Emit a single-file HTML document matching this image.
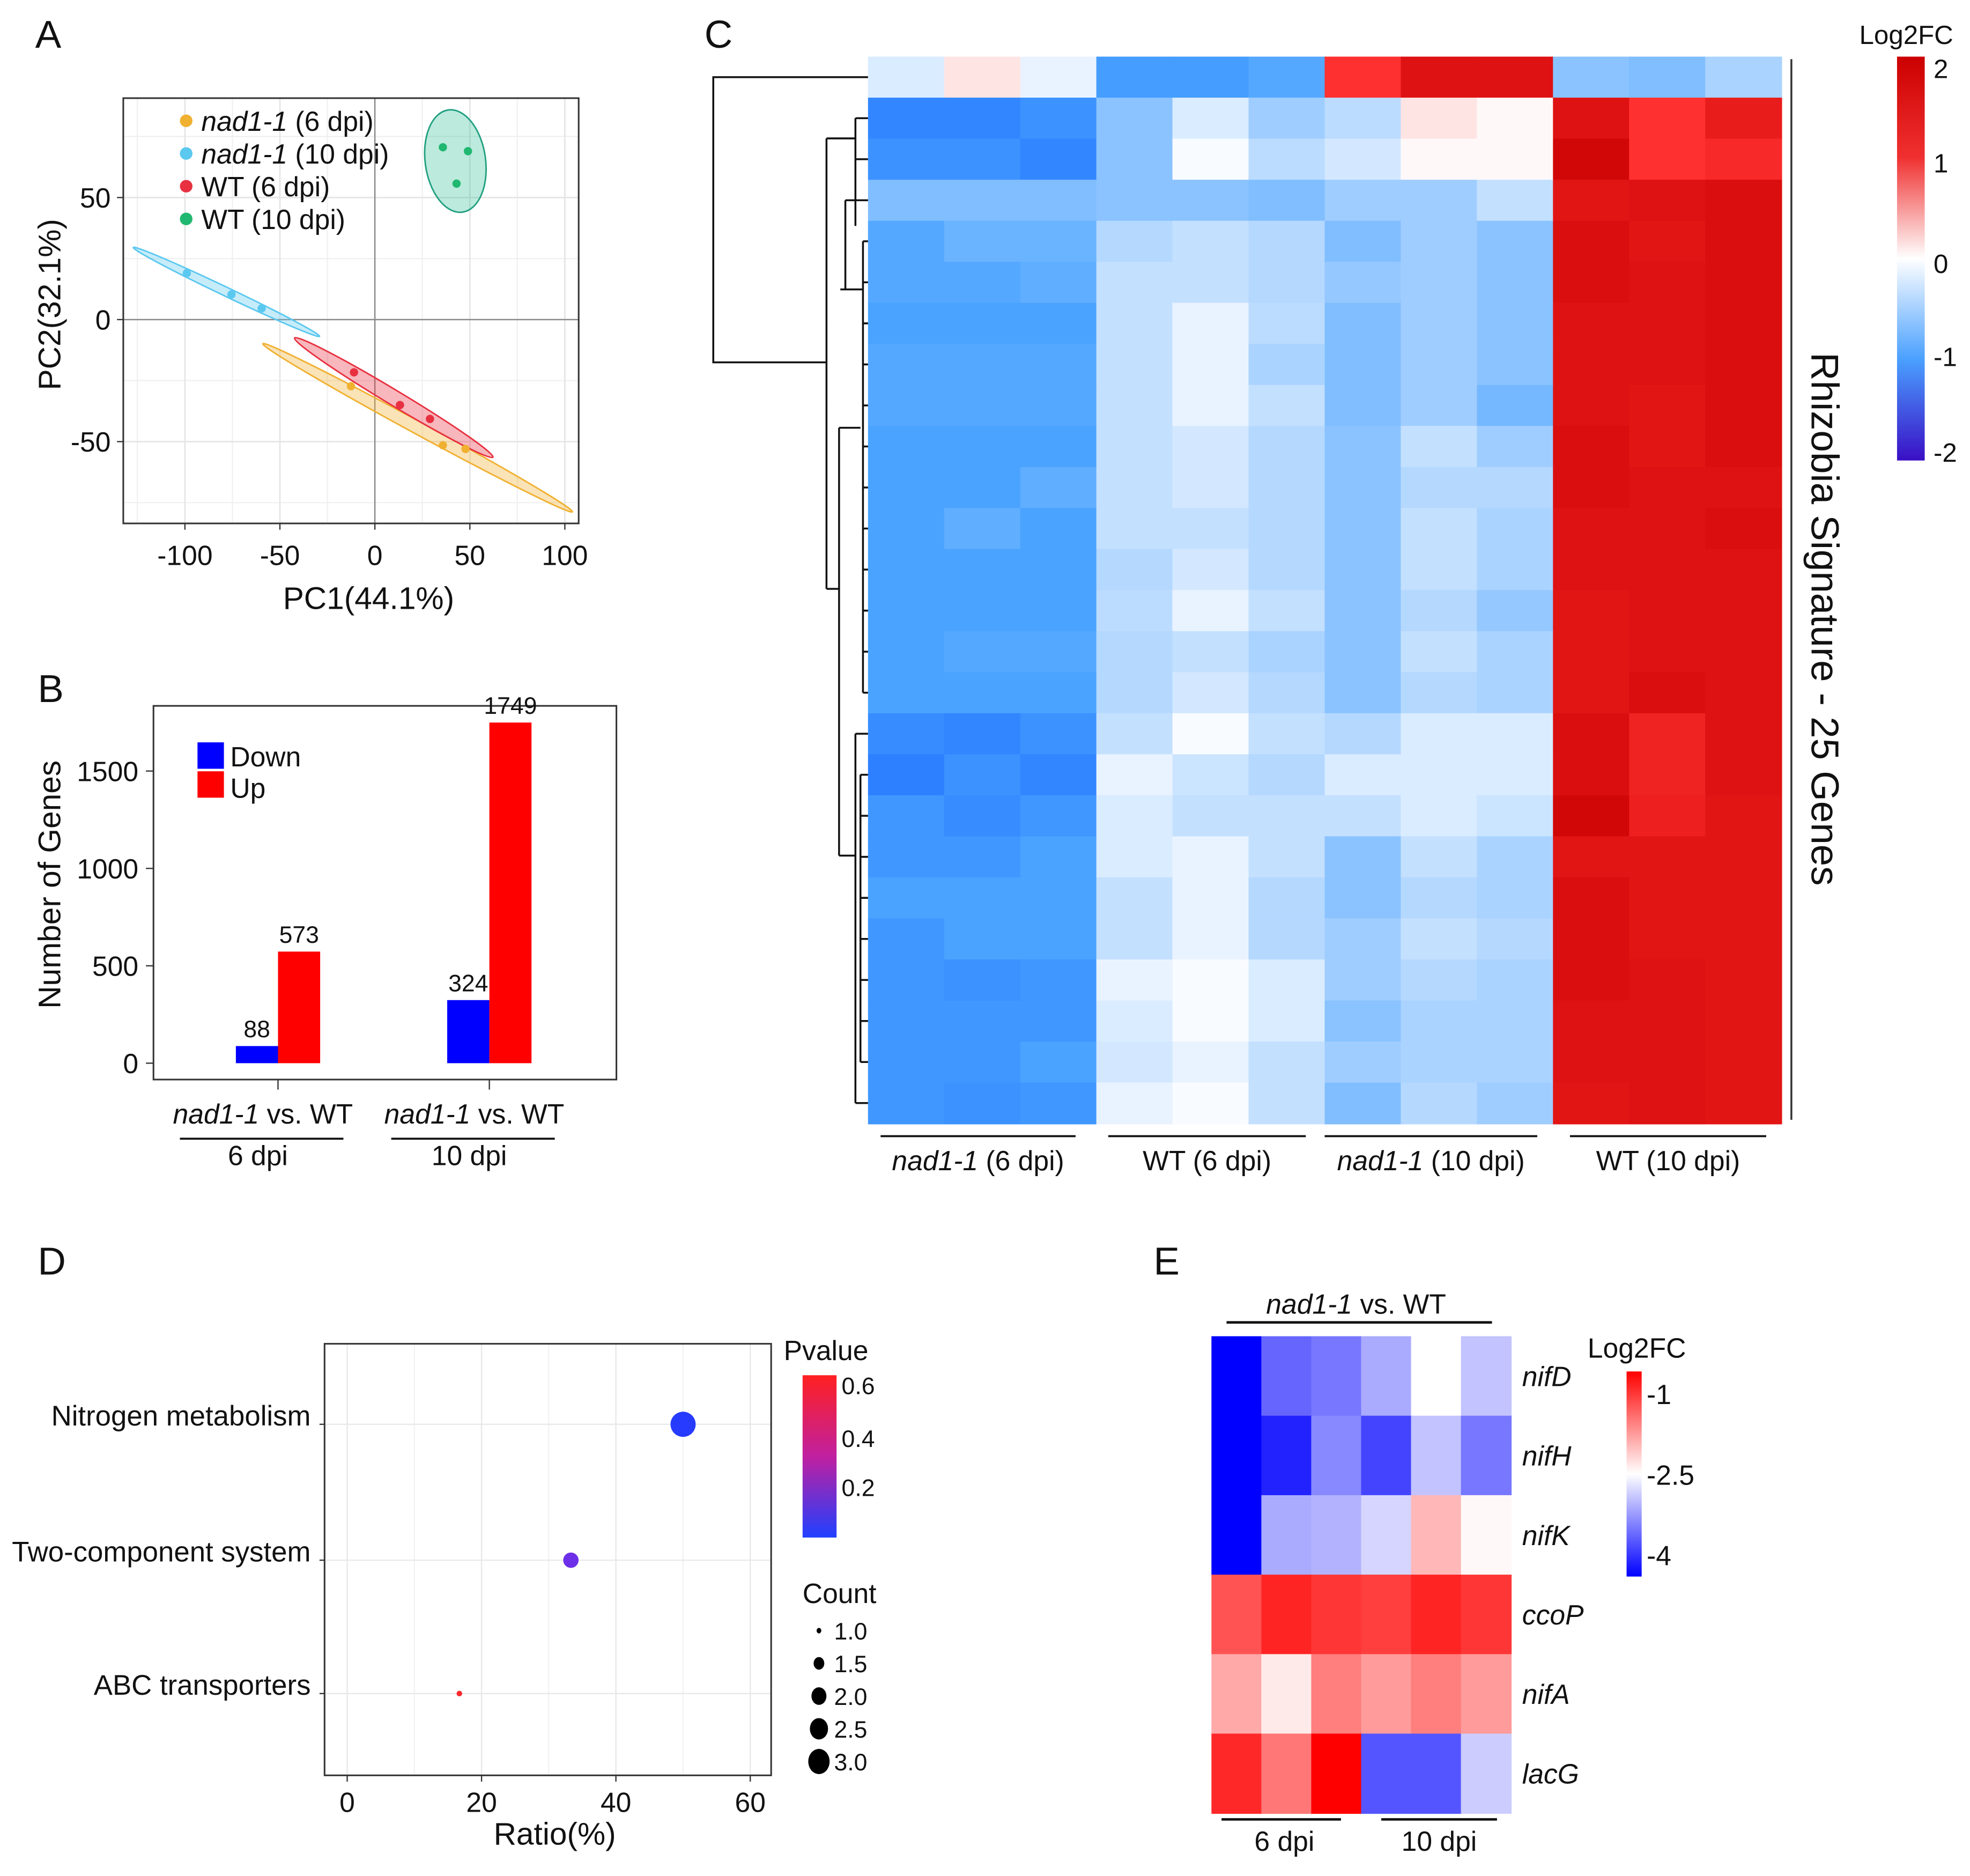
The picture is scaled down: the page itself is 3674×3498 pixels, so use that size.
<!DOCTYPE html>
<html><head><meta charset="utf-8"><style>
html,body{margin:0;padding:0;background:#fff;}
svg{display:block;font-family:"Liberation Sans",Arial,sans-serif;}
</style></head><body>
<svg id="fig" width="3674" height="3498" viewBox="0 0 1566 1491" preserveAspectRatio="none" xmlns="http://www.w3.org/2000/svg">
<defs>
<linearGradient id="gC" x1="0" y1="0" x2="0" y2="1">
<stop offset="0" stop-color="#cc0000"/><stop offset="0.25" stop-color="#f03030"/><stop offset="0.5" stop-color="#ffffff"/><stop offset="0.75" stop-color="#4aa0ff"/><stop offset="1" stop-color="#3a0fc5"/></linearGradient>
<linearGradient id="gE" x1="0" y1="0" x2="0" y2="1">
<stop offset="0" stop-color="#ff0000"/><stop offset="0.5" stop-color="#ffffff"/><stop offset="1" stop-color="#0000ff"/></linearGradient>
<linearGradient id="gD" x1="0" y1="0" x2="0" y2="1">
<stop offset="0" stop-color="#ff2020"/><stop offset="0.5" stop-color="#c020a0"/><stop offset="1" stop-color="#2040ff"/></linearGradient>
</defs>
<g id="root"></g>
</svg>
<script>
// ---------- data ----------
var pcaGroups = ["nad1-1 (6 dpi)","nad1-1 (10 dpi)","WT (6 dpi)","WT (10 dpi)"];
var pcaPC1 = [[-12.6,35.8,47.7],[-99,-75.5,-59.6],[-11,13.2,29],[35.8,49,43]];
var pcaPC2 = [[-27.3,-51.5,-53],[19,10.3,4.6],[-21.6,-35,-40.7],[70.6,69,55.7]];
var pcaTicksX = [-100,-50,0,50,100];
var pcaTicksY = [-50,0,50];

var barCats = ["6 dpi","10 dpi"];
var barDown = [88,324];
var barUp = [573,1749];
var barTicks = [0,500,1000,1500];

var hmCols = ["nad1-1 (6 dpi)","WT (6 dpi)","nad1-1 (10 dpi)","WT (10 dpi)"];
var hmValues = [
[-0.25,0.2,-0.15,-1.05,-1.05,-0.95,1.4,1.85,1.85,-0.7,-0.75,-0.55],
[-1.25,-1.25,-1.15,-0.7,-0.25,-0.6,-0.45,0.2,0.05,1.85,1.4,1.7],
[-1.15,-1.15,-1.25,-0.7,-0.05,-0.45,-0.3,0.05,0.05,2.0,1.4,1.5],
[-0.75,-0.75,-0.75,-0.7,-0.7,-0.75,-0.6,-0.6,-0.4,1.8,1.85,1.9],
[-0.95,-0.85,-0.85,-0.5,-0.4,-0.5,-0.75,-0.6,-0.7,1.9,1.8,1.9],
[-0.95,-0.95,-0.9,-0.4,-0.4,-0.5,-0.65,-0.6,-0.7,1.9,1.85,1.9],
[-1.0,-1.0,-1.0,-0.4,-0.15,-0.45,-0.75,-0.6,-0.7,1.85,1.85,1.9],
[-0.95,-0.95,-0.95,-0.4,-0.15,-0.55,-0.75,-0.6,-0.7,1.85,1.85,1.9],
[-0.95,-0.95,-0.95,-0.4,-0.15,-0.4,-0.75,-0.6,-0.8,1.85,1.8,1.9],
[-1.0,-1.0,-1.0,-0.4,-0.3,-0.5,-0.7,-0.4,-0.6,1.9,1.8,1.9],
[-1.0,-1.0,-0.9,-0.4,-0.3,-0.5,-0.7,-0.5,-0.5,1.9,1.85,1.85],
[-1.0,-0.9,-1.0,-0.4,-0.4,-0.5,-0.7,-0.4,-0.55,1.85,1.85,1.9],
[-1.0,-1.0,-1.0,-0.5,-0.3,-0.5,-0.7,-0.4,-0.55,1.85,1.85,1.85],
[-1.0,-1.0,-1.0,-0.45,-0.15,-0.4,-0.7,-0.5,-0.65,1.8,1.85,1.85],
[-1.0,-0.95,-0.95,-0.5,-0.4,-0.55,-0.7,-0.4,-0.55,1.8,1.85,1.85],
[-1.0,-1.0,-1.0,-0.5,-0.3,-0.5,-0.7,-0.5,-0.55,1.8,1.9,1.85],
[-1.2,-1.25,-1.15,-0.4,-0.05,-0.4,-0.5,-0.25,-0.25,1.9,1.6,1.85],
[-1.3,-1.15,-1.25,-0.15,-0.35,-0.5,-0.25,-0.25,-0.25,1.9,1.6,1.85],
[-1.1,-1.2,-1.1,-0.25,-0.4,-0.4,-0.4,-0.25,-0.35,2.0,1.65,1.8],
[-1.1,-1.1,-1.0,-0.25,-0.15,-0.4,-0.7,-0.4,-0.55,1.8,1.8,1.8],
[-1.0,-1.0,-1.0,-0.4,-0.15,-0.5,-0.7,-0.5,-0.55,1.9,1.8,1.8],
[-1.1,-1.0,-1.0,-0.4,-0.15,-0.5,-0.6,-0.4,-0.5,1.9,1.8,1.8],
[-1.1,-1.15,-1.1,-0.15,-0.05,-0.25,-0.6,-0.5,-0.55,1.9,1.85,1.8],
[-1.1,-1.1,-1.1,-0.25,-0.05,-0.25,-0.7,-0.55,-0.55,1.85,1.85,1.8],
[-1.1,-1.1,-1.0,-0.3,-0.15,-0.4,-0.6,-0.55,-0.55,1.85,1.85,1.8],
[-1.1,-1.15,-1.1,-0.15,-0.05,-0.4,-0.75,-0.5,-0.6,1.8,1.85,1.8]
];

var keggTerms = ["Nitrogen metabolism","Two-component system","ABC transporters"];
var keggRatio = [50,33.3,16.7];
var keggCount = [3,2,1];
var keggP = [0.02,0.2,0.6];
var keggTicks = [0,20,40,60];

var nifGenes = ["nifD","nifH","nifK","ccoP","nifA","lacG"];
var nifValues = [
[-4.5,-3.4,-3.3,-3.0,-2.5,-2.85],
[-4.5,-3.8,-3.2,-3.6,-2.85,-3.3],
[-4.5,-3.0,-2.95,-2.75,-2.0,-2.45],
[-1.3,-0.95,-1.1,-1.15,-0.95,-1.1],
[-1.9,-2.35,-1.6,-1.8,-1.6,-1.8],
[-1.0,-1.55,-0.5,-3.5,-3.5,-2.8]
];

// ---------- helpers ----------
var NS="http://www.w3.org/2000/svg";
var root=document.getElementById('root');
function mk(tag,attrs,parent){var e=document.createElementNS(NS,tag);for(var k in attrs)e.setAttribute(k,attrs[k]);(parent||root).appendChild(e);return e;}
function txt(s,x,y,size,anchor,parent,extra){var e=mk('text',Object.assign({x:x,y:y,'font-size':size,'text-anchor':anchor||'start',fill:'#111'},extra||{}),parent);e.textContent=s;return e;}
function rgb(a){return 'rgb('+a.join(',')+')';}
function lerpColor(stops,v){if(v<=stops[0][0])return rgb(stops[0][1]);for(var i=1;i<stops.length;i++){if(v<=stops[i][0]){var a=stops[i-1],b=stops[i],t=(v-a[0])/(b[0]-a[0]);var c=[0,1,2].map(function(j){return Math.round(a[1][j]+(b[1][j]-a[1][j])*t);});return rgb(c);}}return rgb(stops[stops.length-1][1]);}

// ---------- panel letters ----------
[["A",28,38],["B",30,558],["C",560,38],["D",30,1013],["E",917,1013]].forEach(function(p){
 var t=txt(p[0],p[1],p[2],31,'start');
 
 
});

// ---------- Panel A: PCA ----------
(function(){
 var g=mk('g',{});
 
 
 var L=98,R=460,T=78,B=416;
 function X(v){return 298+v*1.51;}
 function Y(v){return 254-v*1.94;}
 mk('rect',{x:L,y:T,width:R-L,height:B-T,fill:'#fff'},g);
 [-125,-75,-25,25,75].forEach(function(v){mk('line',{x1:X(v),x2:X(v),y1:T,y2:B,stroke:'#f0f0f0','stroke-width':1},g);});
 [-75,-25,25,75].forEach(function(v){mk('line',{x1:L,x2:R,y1:Y(v),y2:Y(v),stroke:'#f0f0f0','stroke-width':1},g);});
 pcaTicksX.forEach(function(v){mk('line',{x1:X(v),x2:X(v),y1:T,y2:B,stroke:'#e6e6e6','stroke-width':1.2},g);});
 pcaTicksY.forEach(function(v){mk('line',{x1:L,x2:R,y1:Y(v),y2:Y(v),stroke:'#e6e6e6','stroke-width':1.2},g);});
 mk('line',{x1:X(0),x2:X(0),y1:T,y2:B,stroke:'#888','stroke-width':1},g);
 mk('line',{x1:L,x2:R,y1:Y(0),y2:Y(0),stroke:'#888','stroke-width':1},g);
 var cols=['#f0b030','#5bc8f0','#e83040','#20b870'];
 var ell=[[332,340,140,5,28.5,'#f0b030'],[313,316,92,6,31,'#e83040'],[180,232,82,3.5,25.5,'#5bc8f0']];
 ell.forEach(function(e){var el=mk('ellipse',{cx:e[0],cy:e[1],rx:e[2],ry:e[3],transform:'rotate('+e[4]+' '+e[0]+' '+e[1]+')',fill:e[5],'fill-opacity':0.35,stroke:e[5],'stroke-width':1.2},g);
  
  });
 var ge=mk('ellipse',{cx:362,cy:128,rx:24,ry:41,transform:'rotate(-8 362 128)',fill:'#20b890','fill-opacity':0.3,stroke:'#20a080','stroke-width':1.2},g);
 
 
 pcaGroups.forEach(function(name,gi){
  pcaPC1[gi].forEach(function(v,j){
   var c=mk('circle',{cx:X(v),cy:Y(pcaPC2[gi][j]),r:3.3,fill:cols[gi]},g);
   
   
  });
 });
 mk('rect',{x:L,y:T,width:R-L,height:B-T,fill:'none',stroke:'#333','stroke-width':1.3},g);
 pcaTicksX.forEach(function(v){mk('line',{x1:X(v),x2:X(v),y1:B,y2:B+5,stroke:'#333'},g);txt(String(v),X(v),B+33,22,'middle',g);});
 pcaTicksY.forEach(function(v){mk('line',{x1:L-5,x2:L,y1:Y(v),y2:Y(v),stroke:'#333'},g);txt(String(v),L-10,Y(v)+8,22,'end',g);});
 var xt=txt('PC1(44.1%)',293,484,25,'middle',g);
 
 
 var yt=txt('PC2(32.1%)',0,0,25,'middle',g,{transform:'translate(48 242) rotate(-90)'});
 
 
 var ly=[97,123,149,175];
 pcaGroups.forEach(function(name,i){
  var le=mk('g',{},g);
  
  
  mk('circle',{cx:148,cy:ly[i]-1,r:5,fill:cols[i]},le);
  var t=mk('text',{x:160,y:ly[i]+7,'font-size':22,fill:'#111'},le);
  if(name.indexOf('nad1-1')===0){var s=mk('tspan',{'font-style':'italic'},t);s.textContent='nad1-1';var s2=mk('tspan',{},t);s2.textContent=name.slice(6);}
  else t.textContent=name;
 });
})();

// ---------- Panel B: bars ----------
(function(){
 var g=mk('g',{});
 
 
 var L=122,R=490,T=561,B=858;
 function Y(v){return 845-v*0.1548;}
 var cx=[221,389], w=33.5;
 mk('rect',{x:L,y:T,width:R-L,height:B-T,fill:'none',stroke:'#333','stroke-width':1.3},g);
 barTicks.forEach(function(v){mk('line',{x1:L-6,x2:L,y1:Y(v),y2:Y(v),stroke:'#333'},g);txt(String(v),L-12,Y(v)+8,22,'end',g);});
 barCats.forEach(function(c,i){
  var d=mk('rect',{x:cx[i]-w,y:Y(barDown[i]),width:w,height:Y(0)-Y(barDown[i]),fill:'#0000ff'},g);
  
  
  var u=mk('rect',{x:cx[i],y:Y(barUp[i]),width:w,height:Y(0)-Y(barUp[i]),fill:'#ff0000'},g);
  
  
  txt(String(barDown[i]),cx[i]-w/2,Y(barDown[i])-7,19,'middle',g);
  var up=txt(String(barUp[i]),cx[i]+w/2,Math.min(Y(barUp[i])-7,Y(barUp[i])+ (barUp[i]>1600?4:0)),19,'middle',g);
  mk('line',{x1:cx[i],x2:cx[i],y1:B,y2:B+8,stroke:'#333'},g);
  var t=mk('text',{x:cx[i]-12,y:893,'font-size':22,'text-anchor':'middle',fill:'#111'},g);
  var s=mk('tspan',{'font-style':'italic'},t);s.textContent='nad1-1';var s2=mk('tspan',{},t);s2.textContent=' vs. WT';
  mk('line',{x1:cx[i]-78,x2:cx[i]+52,y1:905,y2:905,stroke:'#111','stroke-width':1.6},g);
  txt(c,cx[i]-16,926,22,'middle',g);
 });
 mk('rect',{x:157,y:590,width:21,height:21,fill:'#0000ff'},g);
 mk('rect',{x:157,y:613,width:21,height:21,fill:'#ff0000'},g);
 txt('Down',183,609,22,'start',g);txt('Up',183,634,22,'start',g);
 var yt=txt('Number of Genes',0,0,25,'middle',g,{transform:'translate(48 703) rotate(-90)'});
 
 
})();

// ---------- Panel C: heatmap ----------
(function(){
 var g=mk('g',{});
 
 
 var L=690,R=1416,T=45,B=893;
 var nC=12,nR=hmValues.length,cw=(R-L)/nC,rh=(B-T)/nR;
 var stops=[[-2,[58,15,197]],[-1.3,[45,128,255]],[-1,[74,163,255]],[-0.5,[181,216,255]],[0,[255,255,255]],[0.4,[255,200,200]],[1.4,[255,48,48]],[1.85,[222,18,18]],[2.1,[200,0,0]]];
 hmValues.forEach(function(row,r){row.forEach(function(v,c){
  var e=mk('rect',{x:L+c*cw,y:T+r*rh,width:cw+0.6,height:rh+0.6,fill:lerpColor(stops,v)},g);
  
  
 });});
 var d=mk('g',{stroke:'#111','stroke-width':1.5,fill:'none'},g);
 
 
 function yr(i){return T+(i+0.5)*rh;}
 var p='M690 '+yr(0)+' H567 V288 H657';
 p+=' M657 110 V468';
 p+=' M657 110 H680 M680 '+yr(1)+' V'+yr(2)+' M680 '+yr(1)+' H690 M680 '+yr(2)+' H690';
 p+=' M680 110 V'+((yr(3)+200)/2)+' M657 468 H667';
 p+=' M672 '+yr(3)+' H690 M672 '+yr(3)+' V230 M668 230 H686 M686 '+yr(4)+' V'+yr(15)+' M686 '+yr(4)+' H690 M686 '+yr(15)+' H690';
 p+=' M667 340 V680 M667 340 H684 M667 680 H680 M680 '+yr(16)+' V'+yr(25)+' M680 '+yr(16)+' H690 M680 '+yr(25)+' H690';
 for(var i=5;i<15;i++){p+=' M686 '+yr(i)+' H690';}
 for(var j=17;j<25;j++){p+=' M684 '+yr(j)+' H690';}
 p+=' M684 '+yr(17)+' V'+yr(24);
 mk('path',{d:p},d);
 var seg=[[700,855],[881,1038],[1053,1222],[1248,1404]];
 hmCols.forEach(function(n,i){
  mk('line',{x1:seg[i][0],x2:seg[i][1],y1:903,y2:903,stroke:'#111','stroke-width':1.6},g);
  var t=mk('text',{x:(seg[i][0]+seg[i][1])/2,y:930,'font-size':22,'text-anchor':'middle',fill:'#111'},g);
  
  
  if(n.indexOf('nad1-1')===0){var s=mk('tspan',{'font-style':'italic'},t);s.textContent='nad1-1';var s2=mk('tspan',{},t);s2.textContent=n.slice(6);} else t.textContent=n;
 });
 mk('line',{x1:1424,x2:1424,y1:47,y2:890,stroke:'#333','stroke-width':1.5},g);
 var rl=txt('Rhizobia Signature - 25 Genes',0,0,31,'middle',g,{transform:'translate(1440 492) rotate(90)'});
 
 
 var lg=mk('g',{},g);
 
 
 txt('Log2FC',1478,35,21,'start',lg);
 mk('rect',{x:1508,y:45,width:22,height:321,fill:'url(#gC)'},lg);
 [['2',55],['1',130],['0',210],['-1',284],['-2',360]].forEach(function(l){txt(l[0],1537,l[1]+7,21,'start',lg);});
})();

// ---------- Panel D: KEGG bubble ----------
(function(){
 var g=mk('g',{});
 
 
 var L=258,R=613,T=1068,B=1411;
 function X(v){return 276+v*5.34;}
 var ys=[1132,1240,1346];
 [10,30,50].forEach(function(v){mk('line',{x1:X(v),x2:X(v),y1:T,y2:B,stroke:'#f2f2f2'},g);});
 keggTicks.forEach(function(v){mk('line',{x1:X(v),x2:X(v),y1:T,y2:B,stroke:'#e8e8e8'},g);});
 ys.forEach(function(y){mk('line',{x1:L,x2:R,y1:y,y2:y,stroke:'#e8e8e8'},g);});
 mk('rect',{x:L,y:T,width:R-L,height:B-T,fill:'none',stroke:'#333','stroke-width':1.3},g);
 var pst=[[0,[30,60,255]],[0.3,[150,40,220]],[0.62,[255,40,30]]];
 keggTerms.forEach(function(t,i){
  var c=mk('circle',{cx:X(keggRatio[i]),cy:ys[i],r:2.2+(keggCount[i]-1)*3.9,fill:lerpColor(pst,keggP[i])},g);
  
  
  mk('line',{x1:L-4,x2:L,y1:ys[i],y2:ys[i],stroke:'#333'},g);
  txt(t,247,ys[i]+1,22.5,'end',g);
 });
 keggTicks.forEach(function(v){mk('line',{x1:X(v),x2:X(v),y1:B,y2:B+5,stroke:'#333'},g);txt(String(v),X(v),B+29,22,'middle',g);});
 var xt=txt('Ratio(%)',441,1466,25,'middle',g);
 
 
 var lg=mk('g',{},g);
 
 
 txt('Pvalue',623,1081,22,'start',lg);
 mk('rect',{x:638,y:1093,width:27,height:129,fill:'url(#gD)'},lg);
 [['0.6',1101],['0.4',1143],['0.2',1182]].forEach(function(l){txt(l[0],669,l[1]+7,19,'start',lg);});
 var cg=mk('g',{},g);
 
 
 txt('Count',638,1274,22,'start',cg);
 [['1.0',1296,2.2],['1.5',1322,5],['2.0',1348,7],['2.5',1374,8.5],['3.0',1400,10]].forEach(function(l){mk('ellipse',{cx:651,cy:l[1],rx:l[2]*0.85,ry:l[2],fill:'#000'},cg);txt(l[0],663,l[1]+7,19,'start',cg);});
})();

// ---------- Panel E: nif heatmap ----------
(function(){
 var g=mk('g',{});
 
 
 var L=963,R=1201,T=1062,B=1441;
 var cw=(R-L)/6,rh=(B-T)/nifGenes.length;
 var st=[[-4,[0,0,255]],[-2.5,[255,255,255]],[-1,[255,40,40]],[-0.5,[255,0,0]]];
 nifValues.forEach(function(row,r){row.forEach(function(v,c){
  var e=mk('rect',{x:L+c*cw,y:T+r*rh,width:cw+0.6,height:rh+0.6,fill:lerpColor(st,v)},g);
  
  
 });
  var t=txt(nifGenes[r],1210,T+(r+0.5)*rh+8,22,'start',g,{'font-style':'italic'});
  
  
 });
 var tt=mk('text',{x:1078,y:1044,'font-size':22,'text-anchor':'middle',fill:'#111'},g);
 var s=mk('tspan',{'font-style':'italic'},tt);s.textContent='nad1-1';var s2=mk('tspan',{},tt);s2.textContent=' vs. WT';
 mk('line',{x1:975,x2:1186,y1:1051,y2:1051,stroke:'#111','stroke-width':2},g);
 mk('line',{x1:971,x2:1066,y1:1446,y2:1446,stroke:'#111','stroke-width':2},g);
 mk('line',{x1:1098,x2:1190,y1:1446,y2:1446,stroke:'#111','stroke-width':2},g);
 txt('6 dpi',1021,1471,22,'middle',g);txt('10 dpi',1144,1471,22,'middle',g);
 var lg=mk('g',{},g);
 
 
 txt('Log2FC',1262,1079,22,'start',lg);
 mk('rect',{x:1293,y:1090,width:12,height:163,fill:'url(#gE)'},lg);
 [['-1',1108],['-2.5',1172],['-4',1236]].forEach(function(l){txt(l[0],1309,l[1]+8,22,'start',lg);});
})();
</script>
</body></html>
